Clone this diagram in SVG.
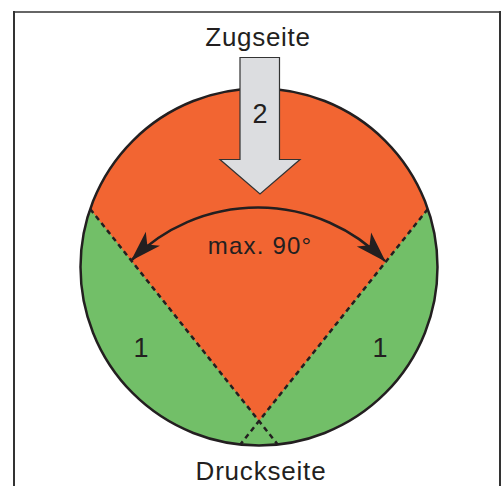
<svg xmlns="http://www.w3.org/2000/svg" width="502" height="486" viewBox="0 0 502 486">
<defs>
<style>
.t{font-family:"Liberation Sans",Arial,sans-serif;fill:#231f20;text-anchor:middle}
.dash{fill:none;stroke:#231f20;stroke-width:2.5;stroke-dasharray:5 4}
</style>
<marker id="ah" markerUnits="userSpaceOnUse" orient="auto-start-reverse" viewBox="-32 -12 34 24" markerWidth="34" markerHeight="24" refX="0" refY="0">
<path d="M1,0 L-30,-10 L-22,0 L-30,10 Z" fill="#231f20"/>
</marker>
</defs>
<rect width="502" height="486" fill="#fff"/>
<g id="frame">
<line x1="14" y1="12" x2="500" y2="12" stroke="#666" stroke-width="2"/>
<line x1="14" y1="11" x2="14" y2="486" stroke="#333" stroke-width="2"/>
<line x1="500" y1="11" x2="500" y2="486" stroke="#333" stroke-width="2"/>
</g>
<g id="circle">
<circle cx="259" cy="267" r="178.5" fill="#72bf68"/>
<path d="M90.2,209 A178.5,178.5 0 0 1 427.8,209 L259,421 Z" fill="#f26532"/>
<circle cx="259" cy="267" r="178.5" fill="none" stroke="#231f20" stroke-width="2.5"/>
</g>
<g id="connectors">
<line class="dash" x1="90.2" y1="209" x2="277.7" y2="444.5"/>
<line class="dash" x1="427.8" y1="209" x2="240.3" y2="444.5"/>
<path d="M131.7,260 A178,178 0 0 1 385,261" fill="none" stroke="#231f20" stroke-width="2.5" marker-start="url(#ah)" marker-end="url(#ah)"/>
</g>
<g id="force-arrow">
<polygon points="240,57.5 279.5,57.5 279.5,159.5 300,159.5 260,194 220,159.5 240,159.5" fill="#dcdde0" stroke="#333" stroke-width="1.2"/>
<text class="t" x="260" y="123" font-size="27">2</text>
</g>
<g id="labels">
<text class="t" x="258" y="46" font-size="26" letter-spacing="0.7">Zugseite</text>
<text class="t" x="261" y="480" font-size="26" letter-spacing="0.8">Druckseite</text>
<text class="t" x="260" y="254" font-size="24" letter-spacing="1.2">max. 90°</text>
<text class="t" x="141" y="357" font-size="27">1</text>
<text class="t" x="380" y="357" font-size="27">1</text>
</g>
</svg>
